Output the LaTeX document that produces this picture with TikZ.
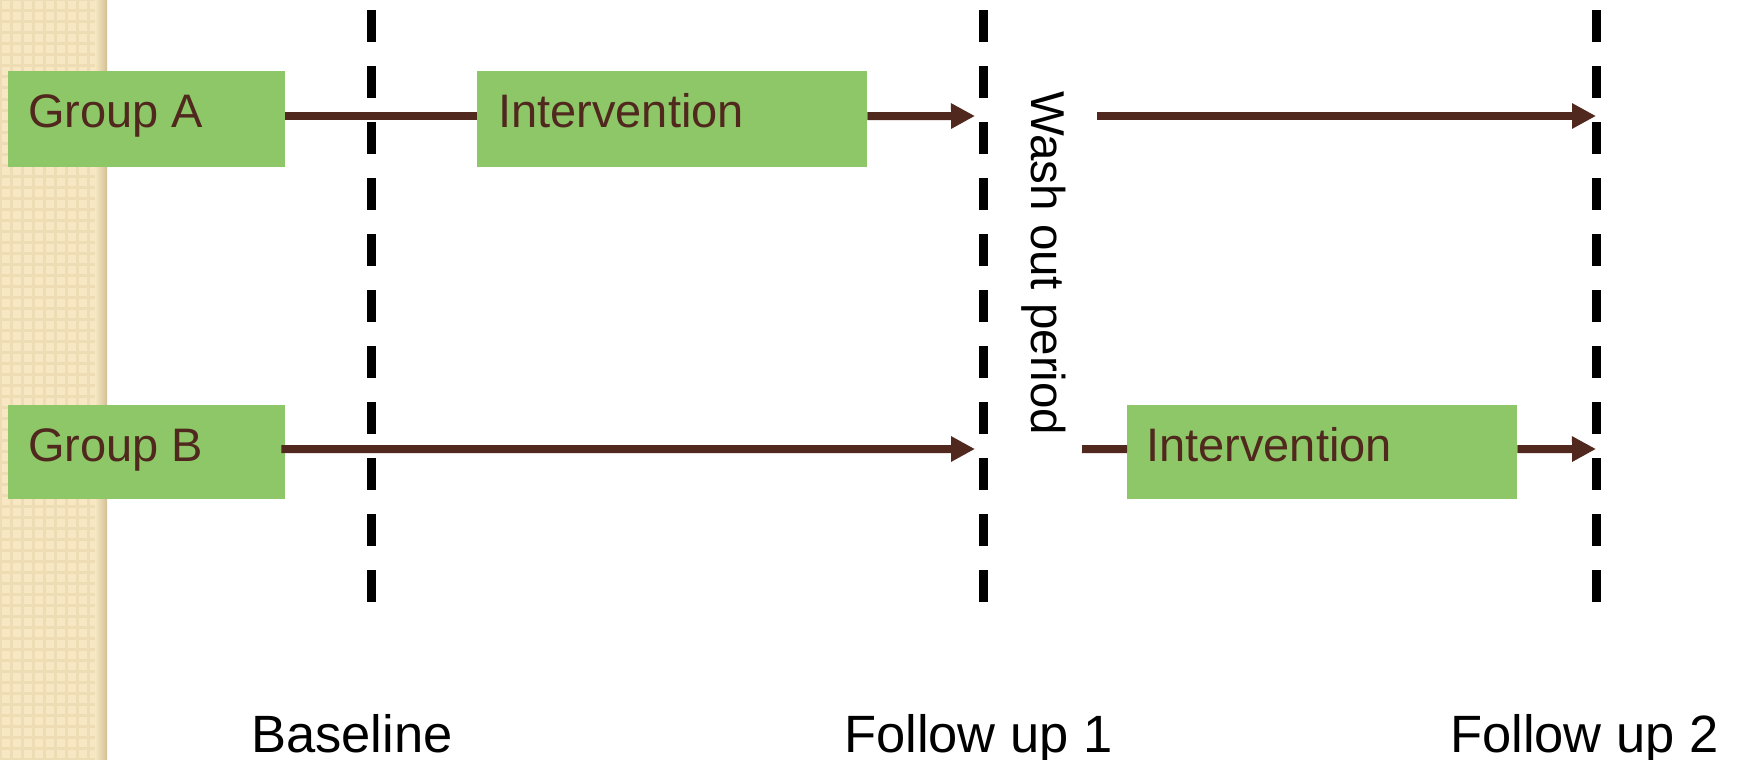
\documentclass[tikz,border=0pt]{standalone}
\usepackage{fontspec}
\setmainfont{Liberation Sans}
\usetikzlibrary{arrows.meta}
\definecolor{boxgreen}{HTML}{8DC768}
\definecolor{arrowbrown}{HTML}{50281E}
\definecolor{strip}{HTML}{F7E8C3}
\definecolor{stripgrid}{HTML}{EEDDB4}
\definecolor{stripshadow}{HTML}{D3BF95}
\tikzset{
  gbox/.style={fill=boxgreen, draw=none, inner sep=0pt, anchor=north west},
  boxtext/.style={text=arrowbrown, inner sep=0pt, anchor=base west, font=\fontsize{47}{56}\selectfont},
  labeltext/.style={text=black, inner sep=0pt, anchor=base west, font=\fontsize{52.5}{62}\selectfont},
  dashline/.style={draw=black, line width=9pt, dash pattern=on 32pt off 24pt},
  conn/.style={draw=arrowbrown, line width=8pt},
  connarrow/.style={conn, -{Triangle[length=24pt,width=24pt]}}
}
\begin{document}
\begin{tikzpicture}[x=1pt,y=-1pt]
\useasboundingbox (0,0) rectangle (1738,760);
\fill[white] (0,0) rectangle (1738,760);
% textured strip
\fill[strip] (0,0) rectangle (107,760);
\begin{scope}
  \clip (0,0) rectangle (107,760);
  \foreach \i in {0,11,...,110} {\draw[stripgrid, line width=3pt] (\i,0) -- (\i,760);}
  \foreach \j in {0,11,...,760} {\draw[stripgrid, line width=3pt] (0,\j) -- (107,\j);}
\end{scope}
\shade[left color=strip, right color=stripshadow] (95,0) rectangle (107,760);

% dashed timelines
\coordinate (d1t) at (371,10);  \coordinate (d1b) at (371,604);
\coordinate (d2t) at (983,10);  \coordinate (d2b) at (983,604);
\coordinate (d3t) at (1596,10); \coordinate (d3b) at (1596,604);
\draw[dashline] (d1t) -- (d1b);
\draw[dashline] (d2t) -- (d2b);
\draw[dashline] (d3t) -- (d3b);

% boxes
\node[gbox, minimum width=277pt, minimum height=96pt] (grpA) at (8,71) {};
\node[gbox, minimum width=390pt, minimum height=96pt] (intA) at (477,71) {};
\node[gbox, minimum width=277pt, minimum height=94pt] (grpB) at (8,405) {};
\node[gbox, minimum width=390pt, minimum height=94pt] (intB) at (1127,405) {};

\node[boxtext] (tgA) at (28,127) {Group A};
\node[boxtext] (tiA) at (498,127) {Intervention};
\node[boxtext] (tgB) at (28,461) {Group B};
\node[boxtext] (tiB) at (1146,461) {Intervention};

% wash out
\node[text=black, inner sep=0pt, anchor=base west, rotate=-90, font=\fontsize{47.5}{56}\selectfont] (wash) at (1031,91) {Wash out period};

% arrow end points
\coordinate (tipA1) at (975,116);
\coordinate (startA2) at (1097,116);
\coordinate (tipA2) at (1596,116);
\coordinate (tipB1) at (975,449);
\coordinate (startB2) at (1082,449);
\coordinate (tipB2) at (1596,449);

\draw[conn] ([yshift=3pt]grpA.east) -- ([yshift=3pt]intA.west);
\draw[connarrow] ([yshift=3pt]intA.east) -- (tipA1);
\draw[connarrow] (startA2) -- (tipA2);
\draw[connarrow] ([xshift=-4pt,yshift=3pt]grpB.east) -- (tipB1);
\draw[conn] (startB2) -- ([yshift=3pt]intB.west);
\draw[connarrow] ([yshift=3pt]intB.east) -- (tipB2);

% bottom labels
\node[labeltext] (lb1) at (251,752) {Baseline};
\node[labeltext] (lb2) at (844,752) {Follow up 1};
\node[labeltext] (lb3) at (1450,752) {Follow up 2};
\end{tikzpicture}
\end{document}
